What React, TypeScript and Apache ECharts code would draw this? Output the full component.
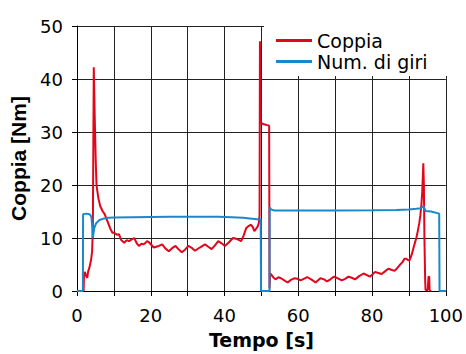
import React, { useEffect, useRef } from "react";
import * as echarts from "echarts";

const seriesNames = ["Coppia", "Num. di giri"];

// Coppia [Nm] vs Tempo [s]
const coppiaData: [number, number][] = [
  [1.8, 0], [1.9, 3.0], [2.1, 3.6], [2.5, 2.8], [2.8, 2.5], [3.0, 3.6], [3.4, 4.5], [3.8, 5.8], [4.1, 7.5],
  [4.3, 12], [4.45, 30], [4.55, 42.2], [4.8, 33], [5.1, 24], [5.3, 19.9], [5.8, 17.5], [6.3, 16], [7.0, 15],
  [7.5, 14.5], [8.3, 13.1], [9.0, 11.8], [9.6, 11.0], [10.1, 11.0], [10.8, 10.6], [11.4, 10.7], [12.0, 9.6],
  [12.8, 9.1], [13.5, 9.6], [14.1, 9.4], [15.5, 10.0], [16.2, 9.0], [16.8, 8.5], [17.5, 8.9], [18.1, 8.8],
  [19.0, 9.4], [19.5, 9.2], [20.8, 8.2], [22.2, 8.5], [23.1, 8.8], [24.0, 8.0], [24.9, 7.5], [26.0, 8.2],
  [26.7, 8.5], [27.5, 7.9], [28.4, 7.3], [29.3, 7.8], [30.2, 8.5], [31.0, 8.2], [32.0, 7.6], [33.3, 8.2],
  [34.7, 8.8], [35.5, 8.4], [36.5, 7.9], [37.4, 8.6], [38.3, 9.4], [39.2, 9.0], [40.1, 8.5], [41.2, 9.2],
  [42.3, 10.0], [43.4, 9.8], [44.5, 9.4], [45.2, 10.5], [45.9, 11.9], [46.6, 12.3], [47.2, 12.5], [47.7, 12.0],
  [48.1, 11.3], [48.6, 11.8], [49.0, 12.2], [49.3, 12.8], [49.5, 14.3], [49.6, 47.1], [49.8, 31.7], [50.5, 31.5],
  [51.5, 31.3], [52.1, 31.2], [52.2, 0.5], [52.4, 3.3], [52.8, 3.0], [53.3, 2.5], [53.9, 2.2], [54.6, 2.6],
  [55.3, 2.4], [56.2, 2.0], [57.1, 1.6], [58.0, 2.1], [58.9, 2.4], [59.8, 2.3], [60.6, 2.0], [61.5, 2.3],
  [62.4, 2.6], [63.5, 2.2], [64.7, 1.6], [65.3, 2.0], [66.0, 2.4], [67.0, 2.2], [67.8, 1.8], [68.7, 2.2],
  [69.6, 2.7], [70.7, 2.4], [71.8, 2.0], [72.7, 2.3], [73.6, 2.7], [74.5, 2.5], [75.4, 2.2], [76.5, 2.8],
  [77.7, 3.3], [78.6, 3.0], [79.4, 2.7], [80.1, 3.1], [80.8, 3.6], [81.7, 3.4], [82.6, 3.2], [83.5, 3.7],
  [84.4, 4.2], [85.2, 4.0], [86.1, 3.8], [86.8, 4.3], [87.5, 4.9], [88.2, 5.4], [88.8, 6.1], [89.3, 6.1],
  [89.8, 5.8], [90.2, 5.8], [90.8, 7.0], [91.5, 8.8], [92.0, 10.0], [92.4, 11.3], [92.8, 12.8], [93.1, 14.3],
  [93.4, 16.5], [93.6, 18.6], [93.8, 22], [93.9, 24.1], [94.05, 20], [94.2, 10], [94.4, 2], [94.5, 0.2],
  [95.1, 0.2], [95.3, 2.7], [95.5, 2.7], [95.6, 0.2], [96.0, 0],
];

// Num. di giri (scaled) vs Tempo [s]
const giriData: [number, number][] = [
  [0, 0], [1.6, 0], [1.65, 14.5], [2.5, 14.6], [3.4, 14.5], [3.9, 14.0], [4.15, 12.0], [4.3, 10.0], [4.5, 11.0],
  [4.7, 11.9], [5.2, 12.8], [6.1, 13.4], [7.4, 13.7], [8.5, 13.8], [10.1, 13.85], [15, 13.9], [20, 13.95],
  [25, 14.0], [30, 14.0], [35, 14.0], [38.3, 14.0], [42, 13.9], [45, 13.8], [48.1, 13.6], [49.5, 13.5],
  [49.8, 13.6], [49.9, 0], [52.2, 0], [52.25, 15.8], [52.6, 15.4], [53.5, 15.2], [60, 15.2], [70, 15.2],
  [80, 15.25], [86.6, 15.3], [90, 15.4], [92, 15.5], [93.2, 15.6], [93.9, 16.0], [94.5, 15.1], [96, 15.0],
  [98.2, 14.6], [98.3, 0], [100, 0],
];

const xName = "Tempo [s]";
const yName = "Coppia [Nm]";

const RED = "#e3051b";
const BLUE = "#1b87cc";

export default function App() {
  const ref = useRef<HTMLDivElement>(null);
  useEffect(() => {
    if (!ref.current) return;
    const chart = echarts.init(ref.current, undefined, { renderer: "svg" });
    const gridColor = "#222";
    chart.setOption({
      animation: false,
      backgroundColor: "#fff",
      grid: { left: 77, right: 16, top: 26, bottom: 56, containLabel: false },
      legend: {
        data: seriesNames,
        orient: "vertical",
        left: 264,
        top: 26,
        icon: "rect",
        itemWidth: 36,
        itemHeight: 3,
        itemGap: 2,
        padding: [5, 22, 5, 12],
        backgroundColor: "#fff",
        textStyle: { fontFamily: "DejaVu Sans", fontSize: 19, color: "#000" },
      },
      xAxis: {
        type: "value",
        min: 0,
        max: 100,
        interval: 10,
        name: xName,
        nameLocation: "middle",
        nameGap: 39,
        nameTextStyle: { fontFamily: "DejaVu Sans", fontWeight: "bold", fontSize: 19, color: "#000" },
        axisLine: { show: true, onZero: false, lineStyle: { color: "#000", width: 1 } },
        axisTick: { show: true, inside: false, length: 5, lineStyle: { color: "#000" } },
        axisLabel: {
          fontFamily: "DejaVu Sans",
          fontSize: 18,
          color: "#000",
          margin: 15,
          formatter: (v: number) => (v % 20 === 0 ? String(v) : ""),
        },
        splitLine: { show: true, lineStyle: { color: gridColor, width: 1 } },
      },
      yAxis: {
        type: "value",
        min: 0,
        max: 50,
        interval: 10,
        name: yName,
        nameLocation: "middle",
        nameRotate: 90,
        nameGap: 43,
        nameTextStyle: { fontFamily: "Liberation Sans", fontWeight: "bold", fontSize: 21, color: "#000" },
        axisLine: { show: true, lineStyle: { color: "#000", width: 1 } },
        axisTick: { show: true, inside: false, length: 5, lineStyle: { color: "#000" } },
        axisLabel: { fontFamily: "DejaVu Sans", fontSize: 18, color: "#000", margin: 14 },
        splitLine: { show: true, lineStyle: { color: gridColor, width: 1 } },
      },
      series: [
        {
          name: seriesNames[0],
          type: "line",
          data: coppiaData,
          showSymbol: false,
          symbol: "none",
          color: RED,
          lineStyle: { color: RED, width: 2 },
        },
        {
          name: seriesNames[1],
          type: "line",
          data: giriData,
          showSymbol: false,
          symbol: "none",
          color: BLUE,
          lineStyle: { color: BLUE, width: 2 },
        },
      ],
    });
    return () => chart.dispose();
  }, []);
  return (
    <div
      ref={ref}
      style={{ position: "fixed", left: 0, top: 0, width: 466, height: 354 }}
    />
  );
}
